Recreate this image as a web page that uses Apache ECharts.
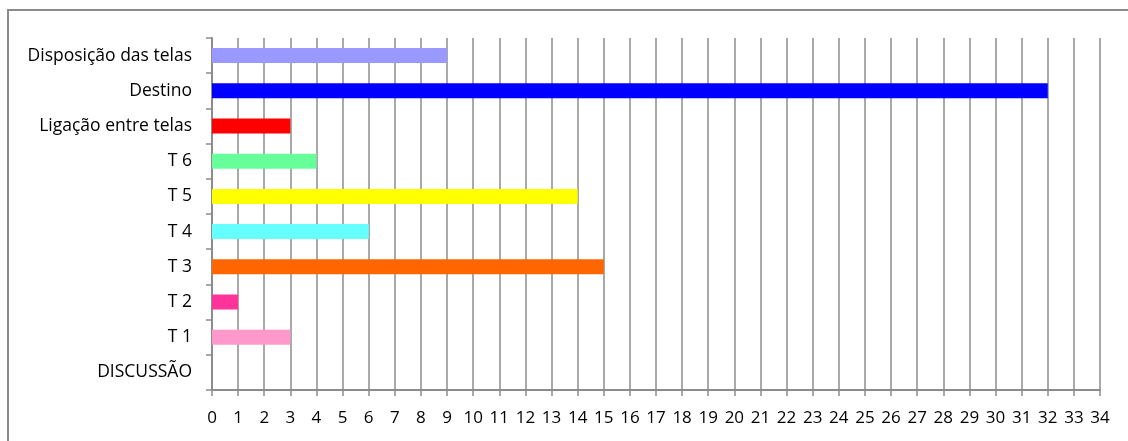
<!DOCTYPE html>
<html>
<head>
<meta charset="utf-8">
<script src="https://cdn.jsdelivr.net/npm/echarts@6/dist/echarts.min.js"></script>
<style>
  html, body { margin: 0; padding: 0; background: #fff; overflow: hidden; }
  #frame { position: absolute; left: 7px; top: 9px; width: 1140px; height: 460px; border: 2px solid #8a8a8a; box-sizing: border-box; }
  #chart { position: absolute; left: 0; top: 0; width: 1128px; height: 441px; }
</style>
</head>
<body>
<div id="frame"></div>
<div id="chart"></div>
<script>
// categories listed bottom to top
const categories = ['DISCUSSÃO', 'T 1', 'T 2', 'T 3', 'T 4', 'T 5', 'T 6', 'Ligação entre telas', 'Destino', 'Disposição das telas']
const values = [0, 3, 1, 15, 6, 14, 4, 3, 32, 9]
const barColors = ['#ff99cc', '#ff99cc', '#ff3399', '#ff6600', '#66ffff', '#ffff00', '#66ff99', '#ff0000', '#0000ff', '#9999ff']

const myChart = echarts.init(document.getElementById('chart'))

const option = {
  animation: false,
  grid: { left: 212, right: 28, top: 38, bottom: 51 },
  xAxis: {
    type: 'value',
    min: 0,
    max: 34,
    interval: 1,
    axisLine: { show: true, lineStyle: { color: '#8c8c8c', width: 2 } },
    axisTick: { show: true, length: 6, lineStyle: { color: '#8c8c8c', width: 1.5 } },
    axisLabel: { color: '#000', fontFamily: 'Open Sans', fontSize: 17, margin: 20 },
    splitLine: { show: true, lineStyle: { color: '#8c8c8c', width: 1.5 } }
  },
  yAxis: {
    type: 'category',
    data: categories,
    axisLine: { show: true, lineStyle: { color: '#8c8c8c', width: 2 } },
    axisTick: { show: true, length: 6, lineStyle: { color: '#8c8c8c', width: 1.5 } },
    axisLabel: { color: '#000', fontFamily: 'Open Sans', fontSize: 17.5, margin: 20 },
    splitLine: { show: false }
  },
  series: [{
    type: 'bar',
    barWidth: 15,
    data: values.map((v, i) => ({ value: v, itemStyle: { color: barColors[i] } }))
  }]
}
myChart.setOption(option)
</script>
</body>
</html>
